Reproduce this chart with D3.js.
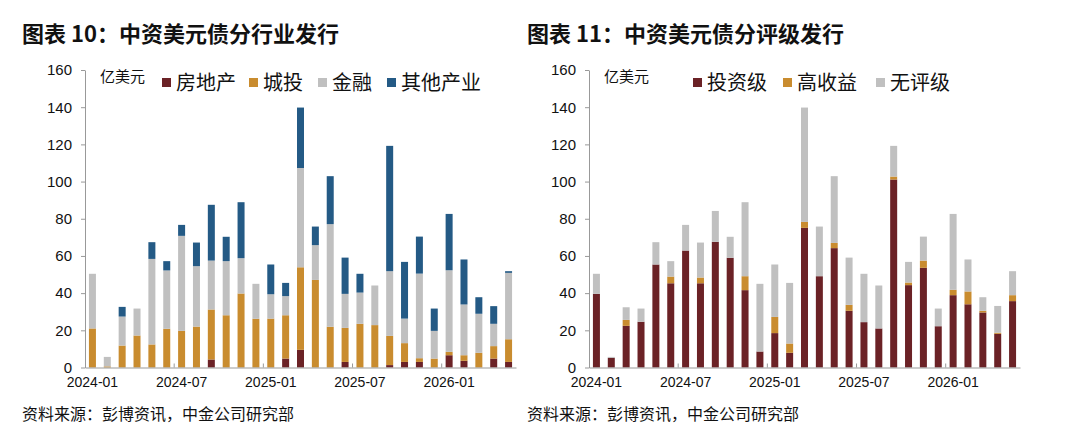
<!DOCTYPE html>
<html>
<head>
<meta charset="utf-8">
<script src="https://cdn.jsdelivr.net/npm/d3@7"></script>
<style>
  body { margin: 0; background: #fff; }
  svg { display: block; }
</style>
</head>
<body>
<div id="chart"></div>
<script>
// months 2024-01 .. 2026-05
const months = ["2024-01","2024-02","2024-03","2024-04","2024-05","2024-06","2024-07","2024-08","2024-09","2024-10","2024-11","2024-12",
                "2025-01","2025-02","2025-03","2025-04","2025-05","2025-06","2025-07","2025-08","2025-09","2025-10","2025-11","2025-12",
                "2026-01","2026-02","2026-03","2026-04","2026-05"]
const tickMonths = ["2024-01","2024-07","2025-01","2025-07","2026-01"]
const yTicks = [0,20,40,60,80,100,120,140,160]

// 图表10 分行业
const realEstate = [0,0,0,0,0,0,0,0,4.3,0,0,0,0,4.8,9.5,0,0,3,0,0,1.3,3,3,0,6.6,3.6,0,4.8,3]
const chengtou   = [21,0.6,11.8,17.2,12.4,20.8,19.7,22,26.9,28.1,39.8,26.2,26.3,23.3,44.4,47.1,21.9,18.3,23.5,22.8,15.7,10.1,2,4.8,1.8,3,7.9,6.7,12.2]
const finance    = [29.4,5.1,15.6,14.5,46,31.4,51.1,32.5,26.3,29.1,19,18.8,13.1,10.3,53.4,18.7,55.2,18.3,16.8,21.3,34.8,13.2,45.5,14.9,43.9,27.3,21,12,35.7]
const otherInd   = [0,0,5.2,0,9,5,5.9,12.7,30,13.1,30.1,0,16,7.1,32.5,10,25.8,19.5,10.1,0,67.4,30.5,19.9,12,30.3,24.2,8.9,9.5,0.9]

// 图表11 分评级
const invGrade  = [39.6,5.2,22.4,24.6,55.4,45.3,62.9,45.3,67.6,59,41.6,8.6,18.5,7.9,75.1,49.1,64.2,30.5,24.4,21,101.1,44.3,53.6,22.2,38.9,34,29.6,18.1,35.7]
const highYield = [0,0,3.2,0,0,3.6,0,3.1,0,0,7.5,0,8.7,5,3.2,0,2.8,3.2,0,0,1.6,1.4,3.9,0,2.9,6.9,0.9,0.6,3.2]
const unrated   = [10.8,0.5,6.8,7.1,12,8.3,13.8,18.8,16.6,11.3,39.8,36.4,28.2,32.6,61.5,26.7,35.9,25.4,26,23.1,16.5,11.1,12.9,9.5,40.8,17.2,7.3,14.4,12.9]

const cnFont = "'Noto Sans CJK SC', sans-serif"
const numFont = "'Liberation Sans', Arial, sans-serif"

const svg = d3.select("#chart").append("svg")
  .attr("width", 1080)
  .attr("height", 445)

function drawPanel(opts)
{
  const g = svg.append("g")

  // table for the stack
  const table = months.map((m, i) => {
    let row = { month: m }
    opts.series.forEach(s => { row[s.name] = s.values[i] })
    return row
  })
  const keys = opts.series.map(s => s.name)
  const stacked = d3.stack().keys(keys)(table)

  const xScale = d3.scaleBand(months, [opts.left, opts.right])
  const yScale = d3.scaleLinear([0, 160], [367.5, 70])
  const barW = 7

  // bars
  stacked.forEach((layer, li) => {
    g.append("g")
     .selectAll("rect")
     .data(layer)
     .enter()
     .append("rect")
     .attr("x", d => xScale(d.data.month) + (xScale.bandwidth() - barW) / 2)
     .attr("width", barW)
     .attr("y", d => yScale(d[1]))
     .attr("height", d => Math.max(0, yScale(d[0]) - yScale(d[1])))
     .attr("fill", opts.series[li].color)
  })

  // y axis
  let yAxis = g.append("g")
     .attr("transform", `translate(${opts.left}, 0)`)
     .call(d3.axisLeft(yScale).tickValues(yTicks).tickSize(4).tickPadding(9).tickSizeOuter(0))
  yAxis.select(".domain").attr("stroke", "#999")
  yAxis.selectAll(".tick line").attr("stroke", "#999")
  yAxis.selectAll("text").attr("font-family", numFont).attr("font-size", 15).attr("fill", "#111")

  // x axis
  let xAxis = g.append("g")
     .attr("transform", `translate(0, 367.5)`)
     .call(d3.axisBottom(xScale).tickValues(tickMonths).tickSize(0).tickPadding(10).tickSizeOuter(0))
  xAxis.select(".domain").attr("stroke", "#999")
  xAxis.selectAll("text")
       .attr("font-family", "'Liberation Sans Narrow', 'Liberation Sans', sans-serif")
       .attr("font-size", 14)
       .attr("fill", "#111")

  // small inward ticks on band boundaries
  g.append("g")
   .selectAll("line")
   .data(tickMonths.slice(1))
   .enter()
   .append("line")
   .attr("x1", d => xScale(d))
   .attr("x2", d => xScale(d))
   .attr("y1", 367.5)
   .attr("y2", 363.5)
   .attr("stroke", "#999")

  // unit
  g.append("text")
   .attr("x", opts.left + 15)
   .attr("y", 82)
   .attr("font-family", cnFont)
   .attr("font-size", 15)
   .attr("fill", "#111")
   .text("亿美元")

  // legend
  opts.series.forEach((s, i) => {
    let lx = opts.legendX[i]
    g.append("rect")
     .attr("x", lx)
     .attr("y", 78)
     .attr("width", 9)
     .attr("height", 9)
     .attr("fill", s.color)
    g.append("text")
     .attr("x", lx + 14)
     .attr("y", 90)
     .attr("font-family", cnFont)
     .attr("font-size", 20)
     .attr("fill", "#111")
     .text(s.name)
  })

  // title and source
  g.append("text")
   .attr("x", opts.titleX)
   .attr("y", 42)
   .attr("font-family", cnFont)
   .attr("font-weight", "bold")
   .attr("font-size", 22)
   .attr("fill", "#111")
   .text(opts.title)

  g.append("text")
   .attr("x", opts.titleX)
   .attr("y", 420)
   .attr("font-family", cnFont)
   .attr("font-size", 16)
   .attr("fill", "#111")
   .text("资料来源：彭博资讯，中金公司研究部")
}

drawPanel({
  left: 85, right: 516, titleX: 22,
  title: "图表 10：中资美元债分行业发行",
  legendX: [162, 249, 318, 387],
  series: [
    { name: "房地产", values: realEstate, color: "#6b2226" },
    { name: "城投", values: chengtou, color: "#c98c2f" },
    { name: "金融", values: finance, color: "#c0c0c0" },
    { name: "其他产业", values: otherInd, color: "#245a85" }
  ]
})

drawPanel({
  left: 589, right: 1020, titleX: 527,
  title: "图表 11：中资美元债分评级发行",
  legendX: [693, 783, 876],
  series: [
    { name: "投资级", values: invGrade, color: "#6b2226" },
    { name: "高收益", values: highYield, color: "#c98c2f" },
    { name: "无评级", values: unrated, color: "#c0c0c0" }
  ]
})
</script>
</body>
</html>
